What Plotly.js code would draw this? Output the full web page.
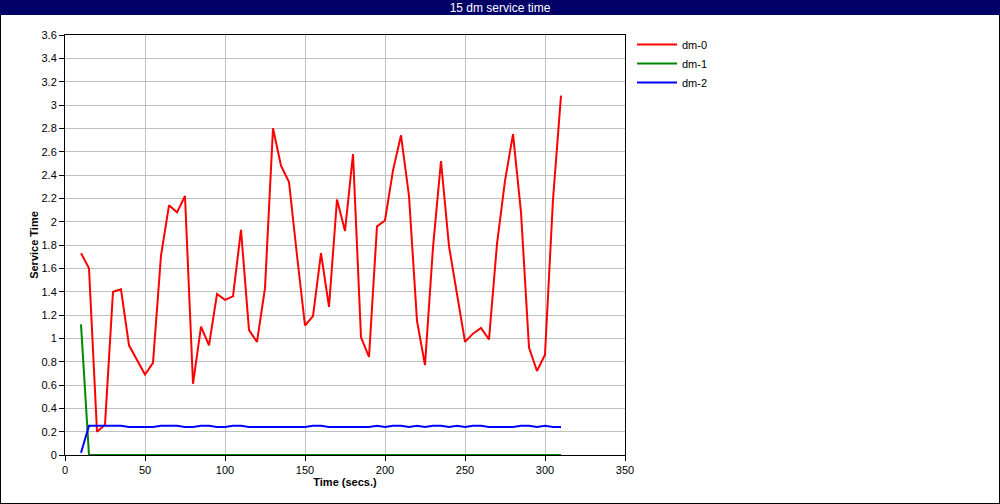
<!DOCTYPE html>
<html>
<head>
<meta charset="utf-8">
<script src="https://cdn.plot.ly/plotly-3.0.1.min.js"></script>
<style>
  html, body { margin: 0; padding: 0; background: #fff; }
  #frame { position: absolute; left: 0; top: 0; width: 1000px; height: 504px; box-sizing: border-box; border: 1px solid #000; }
  #plot { position: absolute; left: 0; top: 0; width: 1000px; height: 504px; }
</style>
</head>
<body>
<div id="frame"></div>
<div id="plot"></div>
<script>
const chartTitle = "15 dm service time";
const xTitle = "Time (secs.)";
const yTitle = "Service Time";
const seriesNames = ["dm-0", "dm-1", "dm-2"];
const seriesColors = ["#ff0000", "#008800", "#0000ff"];

const time = [10, 15, 20, 25, 30, 35, 40, 45, 50, 55, 60, 65, 70, 75, 80, 85, 90, 95, 100, 105,
  110, 115, 120, 125, 130, 135, 140, 145, 150, 155, 160, 165, 170, 175, 180, 185, 190, 195, 200, 205,
  210, 215, 220, 225, 230, 235, 240, 245, 250, 255, 260, 265, 270, 275, 280, 285, 290, 295, 300, 305, 310];

const dm0 = [1.73, 1.60, 0.20, 0.26, 1.40, 1.42, 0.94, 0.82, 0.69, 0.79, 1.71, 2.14, 2.08, 2.22, 0.61, 1.10, 0.94, 1.38, 1.33, 1.36,
  1.93, 1.07, 0.97, 1.43, 2.80, 2.48, 2.34, 1.71, 1.11, 1.19, 1.73, 1.27, 2.19, 1.92, 2.58, 1.01, 0.84, 1.96, 2.01, 2.44,
  2.74, 2.22, 1.15, 0.77, 1.78, 2.52, 1.79, 1.38, 0.97, 1.04, 1.09, 0.99, 1.81, 2.35, 2.75, 2.08, 0.92, 0.72, 0.86, 2.19, 3.08];

const dm1 = [1.12, 0, 0, 0, 0, 0, 0, 0, 0, 0, 0, 0, 0, 0, 0, 0, 0, 0, 0, 0,
  0, 0, 0, 0, 0, 0, 0, 0, 0, 0, 0, 0, 0, 0, 0, 0, 0, 0, 0, 0,
  0, 0, 0, 0, 0, 0, 0, 0, 0, 0, 0, 0, 0, 0, 0, 0, 0, 0, 0, 0, 0];

const dm2 = [0.02, 0.25, 0.25, 0.25, 0.25, 0.25, 0.24, 0.24, 0.24, 0.24, 0.25, 0.25, 0.25, 0.24, 0.24, 0.25, 0.25, 0.24, 0.24, 0.25,
  0.25, 0.24, 0.24, 0.24, 0.24, 0.24, 0.24, 0.24, 0.24, 0.25, 0.25, 0.24, 0.24, 0.24, 0.24, 0.24, 0.24, 0.25, 0.24, 0.25,
  0.25, 0.24, 0.25, 0.24, 0.25, 0.25, 0.24, 0.25, 0.24, 0.25, 0.25, 0.24, 0.24, 0.24, 0.24, 0.25, 0.25, 0.24, 0.25, 0.24, 0.24];

const seriesValues = [dm0, dm1, dm2];

const FONT = "Liberation Sans, Arial, Helvetica, sans-serif";

const traces = seriesValues.map((vals, i) => ({
  type: "scatter",
  mode: "lines",
  name: seriesNames[i],
  x: time,
  y: vals,
  line: { color: seriesColors[i], width: 2 },
  hoverinfo: "x+y+name"
}));

const L = 65, R = 625, T = 35, B = 455, W = 1000, H = 504;
const pw = R - L, ph = B - T;
const px = v => (v - L) / pw;
const py = v => (B - v) / ph;

const layout = {
  width: W,
  height: H,
  margin: { l: L, r: W - R, t: T, b: H - B, pad: 0 },
  paper_bgcolor: "rgba(0,0,0,0)",
  plot_bgcolor: "#ffffff",
  font: { family: FONT, size: 11, color: "#000" },
  showlegend: true,
  title: {
    text: chartTitle,
    x: 0.5, xref: "container", xanchor: "center",
    y: 1 - 7.5 / H, yref: "container", yanchor: "middle",
    font: { family: FONT, size: 12, color: "#ffffff" }
  },
  xaxis: {
    range: [0, 350],
    dtick: 50,
    tick0: 0,
    showgrid: true,
    gridcolor: "#c0c0c0",
    gridwidth: 1,
    zeroline: false,
    showline: true,
    linecolor: "#000",
    linewidth: 1,
    mirror: true,
    ticks: "outside",
    ticklen: 5,
    tickcolor: "#000",
    tickfont: { family: FONT, size: 11, color: "#000" },
    title: { text: "<b>" + xTitle + "</b>", font: { family: FONT, size: 11, color: "#000" }, standoff: 2 }
  },
  yaxis: {
    range: [0, 3.6],
    dtick: 0.2,
    tick0: 0,
    showgrid: true,
    gridcolor: "#c0c0c0",
    gridwidth: 1,
    zeroline: false,
    showline: true,
    linecolor: "#000",
    linewidth: 1,
    mirror: true,
    ticks: "outside",
    ticklen: 5,
    tickcolor: "#000",
    tickfont: { family: FONT, size: 11, color: "#000" },
    title: { text: "<b>" + yTitle + "</b>", font: { family: FONT, size: 11, color: "#000" }, standoff: 0 }
  },
  legend: {
    x: px(632), xanchor: "left",
    y: py(30), yanchor: "top",
    bgcolor: "rgba(0,0,0,0)",
    borderwidth: 0,
    font: { family: FONT, size: 11, color: "#000" },
    itemwidth: 40,
    tracegroupgap: 0
  },
  shapes: [
    {
      type: "rect", xref: "paper", yref: "paper", layer: "below",
      x0: px(0), x1: px(W), y0: py(15), y1: py(0),
      fillcolor: "#000066", line: { width: 0 }
    }
  ]
};

Plotly.newPlot("plot", traces, layout, { displayModeBar: false, staticPlot: false });
</script>
</body>
</html>
